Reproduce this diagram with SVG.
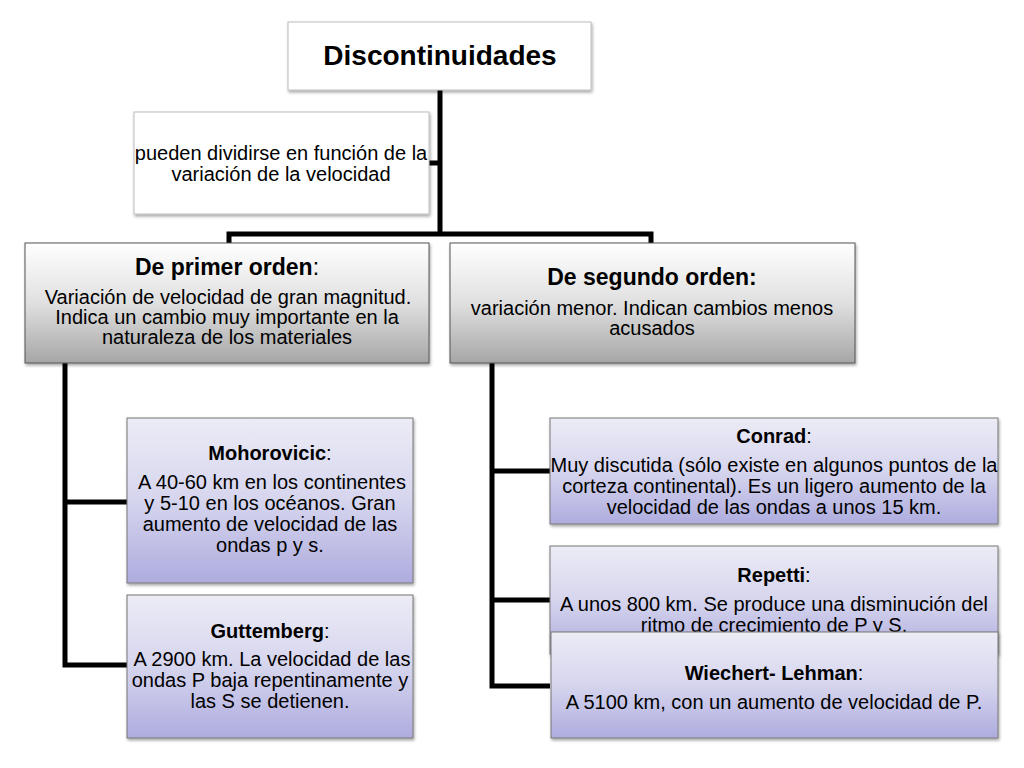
<svg xmlns="http://www.w3.org/2000/svg" width="1024" height="768" viewBox="0 0 1024 768">
<defs>
<linearGradient id="gGray" x1="0" y1="0" x2="0" y2="1">
<stop offset="0" stop-color="#ffffff"/>
<stop offset="0.5" stop-color="#e0e0e0"/>
<stop offset="1" stop-color="#a6a6a6"/>
</linearGradient>
<linearGradient id="gBlue" x1="0" y1="0" x2="0" y2="1">
<stop offset="0" stop-color="#ececf6"/>
<stop offset="0.5" stop-color="#d6d5ee"/>
<stop offset="1" stop-color="#aeacde"/>
</linearGradient>
<filter id="sh" x="-5%" y="-5%" width="110%" height="115%">
<feDropShadow dx="1" dy="2" stdDeviation="1.5" flood-color="#000" flood-opacity="0.35"/>
</filter>
</defs>
<style>
text{font-family:"Liberation Sans",Arial,Helvetica,sans-serif;fill:#000;text-anchor:middle}
.body{font-size:20px}
.t{font-size:23px}
.st{font-size:20px}
.b{font-weight:bold}
.white{fill:#fff;stroke:#bdbdbd;stroke-width:1;filter:url(#sh)}
.gray{fill:url(#gGray);stroke:#555;stroke-width:1;filter:url(#sh)}
.blue{fill:url(#gBlue);stroke:#777;stroke-width:1;filter:url(#sh)}
.conn{fill:none;stroke:#000;stroke-width:5;stroke-linejoin:miter;stroke-linecap:butt}
</style>
<rect width="1024" height="768" fill="#fff"/>
<g id="connectors">
<path class="conn" d="M440,90 V234"/>
<path class="conn" d="M229,243 V234 H651 V243"/>
<path class="conn" d="M429,163 H440"/>
<path class="conn" d="M65,363 V665 H127"/>
<path class="conn" d="M65,502 H127"/>
<path class="conn" d="M492,363 V686 H550"/>
<path class="conn" d="M492,471 H550"/>
<path class="conn" d="M492,600 H550"/>
</g>
<g id="root">
<rect class="white" x="288" y="22" width="303" height="68"/>
<text x="440" y="65" style="font-size:28px" class="b">Discontinuidades</text>
</g>
<g id="pueden">
<rect class="white" x="134" y="112" width="295" height="102"/>
<text class="body" x="281" y="160">pueden dividirse en función de la</text>
<text class="body" x="281" y="181">variación de la velocidad</text>
</g>
<g id="primer">
<rect class="gray" x="25" y="243" width="404" height="120"/>
<text class="t" x="227" y="275"><tspan class="b">De primer orden</tspan>:</text>
<text class="body" x="228" y="304">Variación de velocidad de gran magnitud.</text>
<text class="body" x="227" y="324">Indica un cambio muy importante en la</text>
<text class="body" x="227" y="344">naturaleza de los materiales</text>
</g>
<g id="segundo">
<rect class="gray" x="450" y="243" width="405" height="120"/>
<text class="t b" x="652" y="285">De segundo orden:</text>
<text class="body" x="652" y="315">variación menor. Indican cambios menos</text>
<text class="body" x="652" y="335">acusados</text>
</g>
<g id="mohorovicic">
<rect class="blue" x="127" y="418" width="286" height="165"/>
<text class="st" x="270" y="460"><tspan class="b">Mohorovicic</tspan>:</text>
<text class="body" x="272" y="489">A 40-60 km en los continentes</text>
<text class="body" x="270" y="510">y 5-10 en los océanos. Gran</text>
<text class="body" x="270" y="531">aumento de velocidad de las</text>
<text class="body" x="270" y="552">ondas p y s.</text>
</g>
<g id="guttemberg">
<rect class="blue" x="127" y="595" width="286" height="143"/>
<text class="st" x="270" y="638"><tspan class="b">Guttemberg</tspan>:</text>
<text class="body" x="272" y="666">A 2900 km. La velocidad de las</text>
<text class="body" x="270" y="687">ondas P baja repentinamente y</text>
<text class="body" x="270" y="708">las S se detienen.</text>
</g>
<g id="conrad">
<rect class="blue" x="550" y="418" width="448" height="106"/>
<text class="st" x="774" y="443"><tspan class="b">Conrad</tspan>:</text>
<text class="body" x="774" y="472">Muy discutida (sólo existe en algunos puntos de la</text>
<text class="body" x="774" y="493">corteza continental). Es un ligero aumento de la</text>
<text class="body" x="774" y="514">velocidad de las ondas a unos 15 km.</text>
</g>
<g id="repetti">
<rect class="blue" x="550" y="546" width="448" height="108"/>
<text class="st" x="774" y="582"><tspan class="b">Repetti</tspan>:</text>
<text class="body" x="774" y="611">A unos 800 km. Se produce una disminución del</text>
<text class="body" x="774" y="632">ritmo de crecimiento de P y S.</text>
</g>
<g id="wiechert">
<rect class="blue" x="551" y="632" width="447" height="106"/>
<text class="st" x="774" y="680"><tspan class="b">Wiechert- Lehman</tspan>:</text>
<text class="body" x="774" y="709">A 5100 km, con un aumento de velocidad de P.</text>
</g>
</svg>
